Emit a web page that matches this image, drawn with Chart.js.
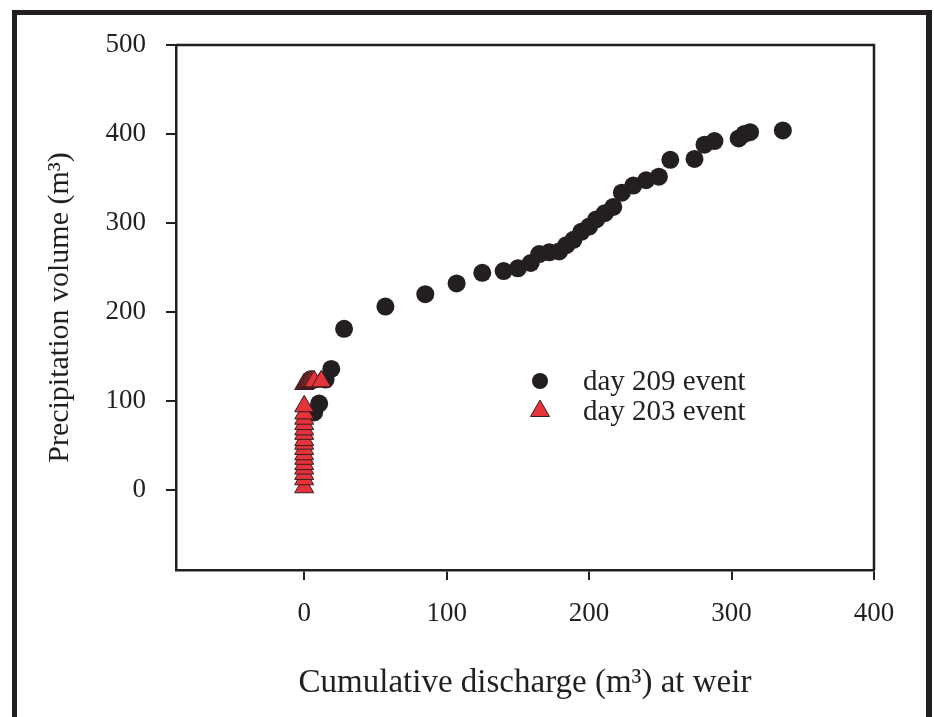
<!DOCTYPE html>
<html>
<head>
<meta charset="utf-8">
<script src="https://cdn.jsdelivr.net/npm/chart.js@4.4.0/dist/chart.umd.min.js"></script>
<style>
  html, body { margin: 0; padding: 0; background: #ffffff; }
  #wrap { position: relative; width: 934px; height: 717px; }
</style>
</head>
<body>
<div id="wrap"><canvas id="c" width="934" height="717"></canvas></div>
<script>
// ---- data ----
const day209X = [7, 10.5, 15, 19, 28, 57, 85, 107, 125, 140, 150, 159, 165, 172, 179, 184, 189, 194.5, 200, 205, 211, 217, 223, 231, 240, 249, 257, 274, 281, 288, 305, 309, 313, 336];
const day209Y = [87, 97, 124, 136, 181, 206, 220, 232, 244, 246, 249, 255, 265, 267, 268, 275, 281, 290, 296, 304, 311, 318, 334, 342, 348, 352, 371, 372, 388, 392, 395, 400, 402, 404];

const day203X = [0, 0, 0, 0, 0, 0, 0, 0, 0, 0, 0, 0, 0, 0, 0, 0, 0, 1, 2, 3, 4, 5, 6, 7, 12];
const day203Y = [3, 12, 18, 24, 29, 35, 40, 46, 52, 56, 63, 68, 74, 80, 86, 94, 119, 120, 121, 121.5, 122, 122, 122, 122, 122];

const xTicks = [0, 100, 200, 300, 400];
const yTicks = [0, 100, 200, 300, 400, 500];
const xRange = [-90, 400];
const yRange = [-90, 500];

const seriesLabels = ['day 209 event', 'day 203 event'];
const xTitle = 'Cumulative discharge (m\u00B3) at weir';
const yTitle = 'Precipitation volume (m\u00B3)';

// ---- styles ----
const INK = '#231f20';
const RED = '#e5333b';
const SERIF = '"Liberation Serif", "Times New Roman", serif';

function toPoints(xs, ys) { return xs.map((x, i) => ({ x: x, y: ys[i] })); }

function drawMarker(ctx, style, x, y, r, fill, stroke, bw) {
  ctx.save();
  ctx.beginPath();
  if (style === 'triangle') {
    let rad = 0;
    ctx.moveTo(x + Math.sin(rad) * r, y - Math.cos(rad) * r);
    rad += 2 * Math.PI / 3;
    ctx.lineTo(x + Math.sin(rad) * r, y - Math.cos(rad) * r);
    rad += 2 * Math.PI / 3;
    ctx.lineTo(x + Math.sin(rad) * r, y - Math.cos(rad) * r);
    ctx.closePath();
  } else {
    ctx.arc(x, y, r, 0, Math.PI * 2);
  }
  ctx.fillStyle = fill;
  ctx.fill();
  if (bw > 0) { ctx.lineWidth = bw; ctx.strokeStyle = stroke; ctx.stroke(); }
  ctx.restore();
}

const framePlugin = {
  id: 'frame',
  beforeDatasetsDraw(chart) {
    const { ctx, chartArea: a } = chart;
    ctx.save();
    ctx.strokeStyle = INK;
    ctx.lineWidth = 2.5;
    ctx.beginPath();
    ctx.moveTo(a.left, a.top);
    ctx.lineTo(a.right, a.top);
    ctx.lineTo(a.right, a.bottom);
    ctx.stroke();
    ctx.restore();
  },
  afterDraw(chart) {
    const ctx = chart.ctx;
    ctx.save();
    ctx.fillStyle = INK;
    ctx.fillRect(12, 10, 920, 5);   // top of outer frame
    ctx.fillRect(12, 10, 5, 707);   // left of outer frame
    ctx.fillRect(926, 10, 6, 707);  // right of outer frame
    ctx.restore();
  }
};

const legendPlugin = {
  id: 'innerLegend',
  afterDatasetsDraw(chart) {
    const ctx = chart.ctx;
    const order = [1, 0]; // dataset indices in legend order (day 209 first)
    const rows = [381, 411];
    order.forEach((di, k) => {
      const ds = chart.data.datasets[di];
      const y = rows[k];
      const r = ds.pointStyle === 'triangle' ? 11 : 8;
      drawMarker(ctx, ds.pointStyle, 540, y, r, ds.backgroundColor, ds.borderColor, ds.borderWidth);
      ctx.save();
      ctx.fillStyle = INK;
      ctx.font = '29px ' + SERIF;
      ctx.textBaseline = 'middle';
      ctx.textAlign = 'left';
      ctx.fillText(ds.label, 583, y + 1);
      ctx.restore();
    });
  }
};

new Chart(document.getElementById('c'), {
  type: 'scatter',
  data: {
    datasets: [
      {
        label: seriesLabels[1],
        data: toPoints(day203X, day203Y),
        pointStyle: 'triangle',
        pointRadius: 11,
        pointHoverRadius: 11,
        backgroundColor: RED,
        borderColor: '#3a1c1e',
        borderWidth: 1,
        order: 1
      },
      {
        label: seriesLabels[0],
        data: toPoints(day209X, day209Y),
        pointStyle: 'circle',
        pointRadius: 9,
        pointHoverRadius: 9,
        backgroundColor: INK,
        borderColor: INK,
        borderWidth: 0,
        order: 2
      }
    ]
  },
  options: {
    responsive: false,
    animation: false,
    events: [],
    layout: { padding: { top: 45, right: 60, left: 0, bottom: 0 } },
    plugins: {
      legend: { display: false },
      tooltip: { enabled: false },
      title: { display: false }
    },
    scales: {
      x: {
        type: 'linear',
        min: xRange[0],
        max: xRange[1],
        afterBuildTicks(scale) { scale.ticks = xTicks.map(v => ({ value: v })); },
        afterFit(scale) { scale.height = 147; },
        grid: { drawOnChartArea: false, drawTicks: true, tickLength: 10, color: INK, lineWidth: 2 },
        border: { display: true, color: INK, width: 2.5 },
        ticks: {
          color: INK,
          font: { family: SERIF, size: 27 },
          padding: 18,
          maxRotation: 0,
          autoSkip: false
        },
        title: {
          display: true,
          text: xTitle,
          color: INK,
          font: { family: SERIF, size: 33 },
          padding: { top: 0, bottom: 14 }
        }
      },
      y: {
        type: 'linear',
        min: yRange[0],
        max: yRange[1],
        afterBuildTicks(scale) { scale.ticks = yTicks.map(v => ({ value: v })); },
        afterFit(scale) { scale.width = 176; },
        grid: { drawOnChartArea: false, drawTicks: true, tickLength: 10, color: INK, lineWidth: 2 },
        border: { display: true, color: INK, width: 2.5 },
        ticks: {
          color: INK,
          font: { family: SERIF, size: 27 },
          padding: 20,
          autoSkip: false
        },
        title: {
          display: true,
          text: yTitle,
          color: INK,
          font: { family: SERIF, size: 30 },
          padding: { top: 42, bottom: 0 }
        }
      }
    }
  },
  plugins: [framePlugin, legendPlugin]
});
</script>
</body>
</html>
